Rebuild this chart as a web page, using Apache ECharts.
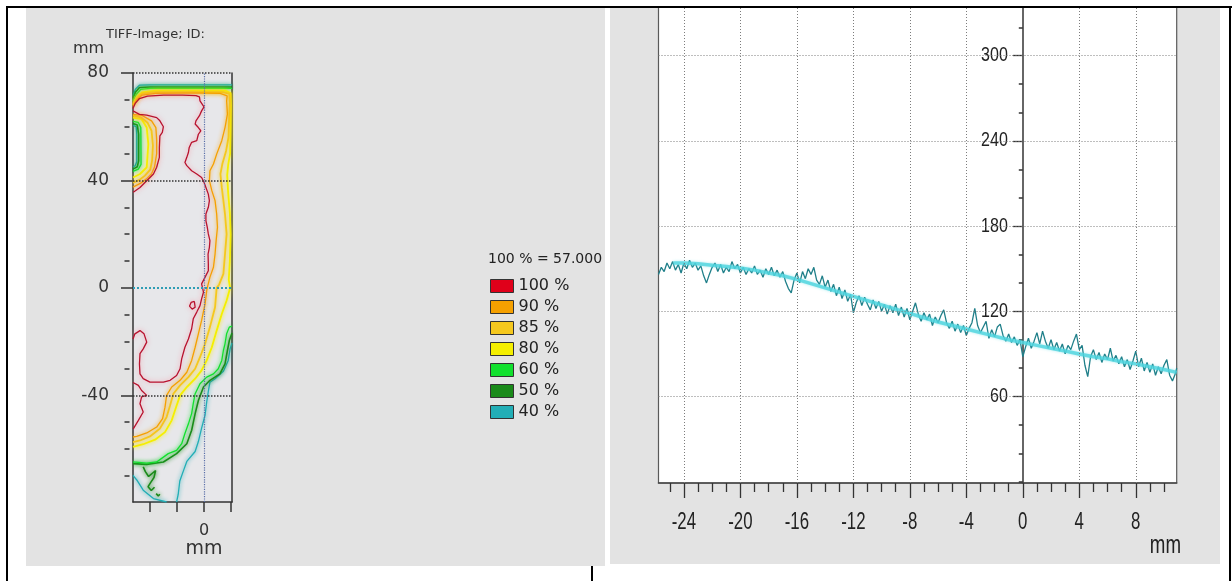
<!DOCTYPE html>
<html>
<head>
<meta charset="utf-8">
<script src="https://cdn.jsdelivr.net/npm/echarts@6/dist/echarts.min.js"></script>
<style>
  html, body { margin: 0; padding: 0; background: #ffffff; }
  #chart { width: 1232px; height: 581px; }
</style>
</head>
<body>
<div id="chart"></div>
<script>
// ---------- Isodose map (left panel) ----------
const doseLevels = ['100 %', '90 %', '85 %', '80 %', '60 %', '50 %', '40 %'];
const doseColors = ['#e0001a', '#f5a000', '#f5c81e', '#f5ef00', '#12e02e', '#1a8a1a', '#22aeb6'];
const doseReference = '100 % = 57.000';
const mapTitle = 'TIFF-Image; ID:';
const mapUnit = 'mm';

const mapYLabels = [-40, 0, 40, 80];
const mapYMinor = [-70, -60, -50, -30, -20, -10, 10, 20, 30, 50, 60, 70];
const mapXTicks = [-20, -10, 0, 10];
const mapXLabels = [0];

// contour polylines per dose level, [x mm, y mm]
const iso100 = [
  [[-26.4,66.8],[-25.5,68.8],[-24,70.5],[-21,71.4],[-15,71.8],[-8,71.8],[-3,71.6],[-1.7,71.1],[-1.5,69.6],[0,67.4],[-0.9,65.9],[-1.7,64.1],[-3.0,62.2],[-3.3,61.0],[-2.1,59.7],[-1.2,58.5],[-2.1,57.2],[-2.7,54.8],[-4.6,54.2],[-5.5,52.3],[-5.8,50.4],[-6.4,48.6],[-7.1,46.7],[-6.4,45.5],[-4.6,43.6],[-2.7,42.4],[-0.9,41.1],[0,39.3],[0.7,37.4],[1.6,34.9],[2.0,32.5],[1.6,30.0],[0.7,27.5],[0.7,25.0],[1.2,22.6],[1.6,20.1],[2.2,17.6],[2.0,15.1],[1.5,12.6],[1.6,8.9],[1.6,6.4],[0.4,4.0],[-0.9,1.5],[-0.2,-1.6],[-0.9,-4.1],[-1.5,-6.6],[-2.7,-9.0],[-4.0,-11.5],[-4.6,-15.2],[-5.8,-19.0],[-7.1,-22.1],[-8.3,-26.4],[-8.9,-30.1],[-10.2,-32.6],[-12.6,-34.4],[-15.1,-35.1],[-20.1,-35.1],[-22.6,-33.8],[-23.8,-32.0],[-24.0,-28.3],[-23.8,-24.5],[-22.6,-22.7],[-21.3,-20.2],[-22.3,-17.1],[-23.8,-15.9],[-25.7,-17.1],[-26.4,-19.0]],
  [[-26.4,65.9],[-24,64.6],[-21.3,64.3],[-17.6,63.4],[-16.4,62.2],[-15.1,60.0],[-15.5,57.9],[-16.4,56.6],[-16.6,52.3],[-16.6,48.6],[-17.6,44.9],[-18.8,42.4],[-21.3,39.9],[-23.8,37.4],[-26.3,35.6]],
  [[-26.4,-35.2],[-24.4,-36.3],[-23.2,-38.2],[-21.3,-40.0],[-23.2,-40.6],[-23.8,-43.1],[-22.6,-46.2],[-24.4,-49.3],[-26.3,-52.5]],
  [[-3.6,-5.0],[-4.8,-5.4],[-5.4,-6.8],[-4.4,-7.9],[-3.3,-7.2],[-3.6,-5.0]]
];
const iso90 = [
  [[-26.4,67.6],[-25,70],[-23,71.8],[-18,72.4],[-8,72.5],[0,72.5],[6,72.4],[8.6,71.5],[8.4,69.6],[8.7,64.7],[7.8,59.7],[6.6,54.8],[4.7,49.8],[3.5,46.1],[2.2,43.6],[2.0,39.9],[2.9,36.2],[4.1,32.5],[4.7,27.5],[5.0,22.6],[4.5,17.6],[4.1,12.6],[3.5,7.7],[2.2,4.0],[1.2,0],[1.0,-1.0],[0.4,-5.9],[-0.9,-12.1],[-2.1,-17.1],[-3.3,-22.1],[-4.6,-27.0],[-6.4,-31.4],[-8.9,-34.4],[-12.0,-36.9],[-13.9,-40.0],[-14.5,-44.4],[-15.4,-48.7],[-17.6,-51.8],[-21.3,-54.0],[-25.0,-55.3],[-26.4,-55.5]],
  [[-26.4,64.6],[-23,64.2],[-19.5,62.2],[-17.9,59.7],[-17.6,55],[-17.6,50],[-18.4,45],[-19.5,42.5],[-21.5,40.5],[-23.5,39],[-26.4,37.5]]
];
const iso85 = [
  [[-26.4,68],[-25,70.5],[-23,72.3],[-18,72.9],[0,72.9],[7,72.9],[9.4,72.3],[9.6,69.0],[9.4,64.7],[9.1,56],[8.2,51],[6.8,46.1],[6.1,42.4],[6.6,37.4],[7.2,32.5],[7.8,27.5],[8.4,20],[7.8,12.6],[7.2,5.2],[5.6,1.2],[4.7,0],[4.1,-7.2],[2.2,-14.6],[0.4,-20.8],[-1.5,-25.8],[-3.3,-30.1],[-5.8,-33.2],[-8.9,-36.3],[-11.4,-39.4],[-12.6,-43.7],[-13.9,-48.1],[-16.4,-52.4],[-20.1,-55.3],[-23.8,-56.8],[-26.4,-57.4]],
  [[-26.4,64.1],[-23.5,63.5],[-21,61.5],[-19.5,58.5],[-19,53],[-19.3,47.5],[-20,44],[-22,41.8],[-24,40.2],[-26.4,39.2]]
];
const iso80 = [
  [[-26.4,68.5],[-25,71],[-23,72.8],[-18,73.4],[0,73.4],[8,73.4],[9.9,72.5],[10.0,68],[9.9,60],[9.7,50],[9.0,46],[8.6,42],[9.0,35],[9.6,28],[9.9,20],[9.6,10],[9.2,3],[9.7,0],[8.4,-4.7],[6.6,-9.7],[4.7,-15.9],[2.9,-22.1],[1.0,-27.0],[-0.9,-30.7],[-3.3,-33.8],[-6.4,-36.9],[-8.9,-40.0],[-10.4,-44.4],[-12.0,-49.3],[-14.5,-53.7],[-18.2,-56.5],[-22.6,-58.2],[-26.4,-59.2]],
  [[-26.4,63.4],[-23.2,62.8],[-21.3,59.7],[-20.7,53.5],[-21.3,44.9],[-23.8,42.4],[-26.4,41.1]]
];
const iso60 = [
  [[-26.4,69.5],[-25.2,72],[-23.5,73.9],[-20,74.3],[10.4,74.3]],
  [[10.4,-14.2],[9.4,-14.6],[8.4,-17.1],[7.8,-20.8],[7.2,-23.3],[6.6,-27.0],[5.3,-30.1],[3.5,-32.0],[1.0,-33.2],[-1.5,-35.7],[-3.3,-39.4],[-4.0,-43.1],[-4.6,-46.8],[-5.8,-50.6],[-7.1,-54.2],[-8.3,-58.0],[-10.2,-60.5],[-13.3,-61.7],[-15.1,-63.0],[-17.6,-64.8],[-21.3,-65.2],[-26.4,-64.8]],
  [[-26.4,62],[-24.4,61.6],[-23.5,59.7],[-23.4,46],[-24.4,44.2],[-26.4,43.4]]
];
const iso50 = [
  [[-26.4,70.5],[-25.5,72.8],[-24,74.6],[-20,74.8],[10.4,74.8]],
  [[10.4,-16.8],[9.4,-19.6],[8.7,-23.3],[7.8,-28.3],[5.9,-32.0],[2.2,-34.4],[-0.2,-36.9],[-2.1,-41.9],[-3.3,-46.8],[-4.6,-53.0],[-6.4,-58.0],[-10.2,-61.7],[-15.1,-64.8],[-21.3,-65.7],[-26.4,-65.4]],
  [[-26.4,61.2],[-24.8,60.6],[-24.3,57.2],[-24.3,47.3],[-24.8,45.1],[-26.4,44.2]],
  [[-22.6,-66.6],[-21.8,-68.4],[-20.6,-70.2],[-19.2,-69.0],[-18.0,-68.0],[-18.6,-70.6],[-19.8,-72.4],[-20.8,-74.0],[-19.6,-75.4],[-18.4,-74.2]],
  [[-17.8,-76.6],[-17.0,-77.4],[-16.4,-76.8]]
];
const iso40 = [
  [[-26.4,71.5],[-25.5,74],[-24,75.5],[-20,75.6],[10.4,75.6]],
  [[10.4,-20.5],[9.7,-22.7],[9.0,-27.0],[7.2,-31.0],[4.1,-33.8],[2.2,-35.1],[1.6,-38.5],[1.0,-42.4],[0.4,-47.3],[-0.9,-52.2],[-2.1,-57.2],[-3.3,-60.9],[-6.4,-64.6],[-7.7,-68.2],[-9.0,-71.9],[-9.6,-76.9],[-10.2,-79.7]],
  [[-26.4,-69.8],[-25.0,-71.5],[-22.6,-75.3],[-18.8,-78.4],[-13.9,-79.7]],
  [[-26.4,60.5],[-25.2,60],[-25,57],[-25,47],[-25.6,45.5],[-26.4,45]]
];
const isoLines = [iso100, iso90, iso85, iso80, iso60, iso50, iso40];

// ---------- Dose profile (right panel) ----------
const profileXLabels = [-24, -20, -16, -12, -8, -4, 0, 4, 8];
const profileXMinor = [-25, -23, -22, -21, -19, -18, -17, -15, -14, -13, -11, -10, -9, -7, -6, -5, -3, -2, -1, 1, 2, 3, 5, 6, 7, 9, 10];
const profileYLabels = [60, 120, 180, 240, 300];
const profileYMinor = [0, 20, 40, 80, 100, 140, 160, 200, 220, 260, 280, 320];
const profileXRange = [-25.8, 10.9];
const profileYRange = [-0.9, 334.3];
const profileUnit = 'mm';

// measured profile along y = 0, [x mm, value]
const profileMeasured = [
  [-25.8,146],[-25.6,151],[-25.4,148],[-25.2,154],[-25.0,150],[-24.8,155],[-24.6,149],[-24.4,153],
  [-24.2,147],[-24.0,154],[-23.8,150],[-23.6,156],[-23.4,151],[-23.2,154],[-23.0,149],[-22.8,152],
  [-22.6,145],[-22.4,140],[-22.2,146],[-22.0,151],[-21.8,154],[-21.6,148],[-21.4,153],[-21.2,147],
  [-21.0,151],[-20.8,148],[-20.6,155],[-20.4,150],[-20.2,153],[-20.0,147],[-19.8,151],[-19.6,146],
  [-19.4,150],[-19.2,147],[-19.0,152],[-18.8,146],[-18.6,149],[-18.4,144],[-18.2,150],[-18.0,146],
  [-17.8,151],[-17.6,145],[-17.4,149],[-17.2,144],[-17.0,148],[-16.8,141],[-16.6,136],[-16.4,133],
  [-16.2,142],[-16.0,147],[-15.8,140],[-15.6,148],[-15.4,143],[-15.2,150],[-15.0,146],[-14.8,151],
  [-14.6,142],[-14.4,139],[-14.2,145],[-14.0,137],[-13.8,142],[-13.6,134],[-13.4,139],[-13.2,131],
  [-13.0,137],[-12.8,129],[-12.6,135],[-12.4,127],[-12.2,132],[-12.0,119],[-11.8,126],[-11.6,131],
  [-11.4,124],[-11.2,130],[-11.0,125],[-10.8,121],[-10.6,128],[-10.4,122],[-10.2,127],[-10.0,120],
  [-9.8,125],[-9.6,118],[-9.4,124],[-9.2,119],[-9.0,125],[-8.8,117],[-8.6,123],[-8.4,116],
  [-8.2,122],[-8.0,114],[-7.8,120],[-7.6,126],[-7.4,118],[-7.2,113],[-7.0,119],[-6.8,114],
  [-6.6,118],[-6.4,110],[-6.2,116],[-6.0,112],[-5.8,117],[-5.6,121],[-5.4,112],[-5.2,108],
  [-5.0,113],[-4.8,106],[-4.6,111],[-4.4,105],[-4.2,110],[-4.0,103],[-3.8,108],[-3.6,112],
  [-3.4,122],[-3.2,110],[-3.0,105],[-2.8,109],[-2.6,113],[-2.4,101],[-2.2,107],[-2.0,102],
  [-1.8,109],[-1.6,111],[-1.4,103],[-1.2,99],[-1.0,104],[-0.8,98],[-0.6,102],[-0.4,96],
  [-0.2,100],[0.0,88],[0.2,95],[0.4,101],[0.6,94],[0.8,99],[1.0,105],[1.2,97],
  [1.4,106],[1.6,99],[1.8,94],[2.0,100],[2.2,93],[2.4,98],[2.6,92],[2.8,97],
  [3.0,90],[3.2,96],[3.4,93],[3.6,99],[3.8,104],[4.0,93],[4.2,96],[4.4,82],
  [4.6,74],[4.8,88],[5.0,93],[5.2,86],[5.4,91],[5.6,84],[5.8,90],[6.0,86],
  [6.2,94],[6.4,85],[6.6,89],[6.8,83],[7.0,88],[7.2,81],[7.4,86],[7.6,79],
  [7.8,85],[8.0,92],[8.2,81],[8.4,87],[8.6,78],[8.8,84],[9.0,77],[9.2,83],
  [9.4,75],[9.6,81],[9.8,76],[10.0,82],[10.2,86],[10.4,75],[10.6,71],[10.8,76],[10.9,80]
];
// smoothed profile
const profileSmoothed = [
  [-24.75,154],[-24,154],[-23,153.5],[-22,152.5],[-21,151.5],[-20,150.5],[-19,149],[-18,147],
  [-17,145],[-16,142.5],[-15,139.5],[-14,136.5],[-13,133.5],[-12,130.5],[-11,127.5],[-10,124.5],
  [-9,121.5],[-8,118.5],[-7,115.5],[-6,112.5],[-5,110],[-4,107.5],[-3,105],[-2,102.5],
  [-1,100],[0,98],[1,96],[2,94],[3,92],[4,90],[5,88],[6,86.5],[7,84.5],[8,83],[9,81],[10,79],[10.9,77]
];

// ---------- styling ----------
const panelGray = '#e3e3e3';
const sans = "'DejaVu Sans', Verdana, sans-serif";
const tall = "'Liberation Sans', Arial, sans-serif";

const isoSeries = [];
// lower levels first so the 100 % line sits on top
for (let k = isoLines.length - 1; k >= 0; k--) {
  const col = doseColors[k];
  const red = k === 0;
  isoLines[k].forEach(function (poly) {
    isoSeries.push({
      type: 'line', name: doseLevels[k], xAxisIndex: 0, yAxisIndex: 0,
      data: poly, symbol: 'none', silent: true, z: 3 + (6 - k) * 0.1,
      itemStyle: { color: col },
      lineStyle: {
        color: red ? '#b8122e' : col,
        width: (k === 2 || k === 3) ? 1.8 : (k === 5 ? 1.6 : 1.3),
        shadowColor: red ? 'rgba(255,120,140,0.75)' : col,
        shadowBlur: red ? 5 : 4
      }
    });
  });
}

const mapRefLines = {
  type: 'line', xAxisIndex: 0, yAxisIndex: 0, data: [], silent: true, z: 2,
  markLine: {
    silent: true, symbol: 'none', label: { show: false }, animation: false,
    data: [
      { yAxis: 80, lineStyle: { color: '#333', type: 'dotted', width: 1.5 } },
      { yAxis: 40, lineStyle: { color: '#333', type: 'dotted', width: 1.5 } },
      { yAxis: -40, lineStyle: { color: '#333', type: 'dotted', width: 1.5 } },
      { yAxis: 0, lineStyle: { color: '#2f9db5', type: 'dotted', width: 2 } },
      { xAxis: 0, lineStyle: { color: '#5a6fa8', type: 'dotted', width: 1.2 } }
    ]
  }
};

const profileGrid = {
  type: 'line', xAxisIndex: 1, yAxisIndex: 3, data: [], silent: true, z: 1,
  markLine: {
    silent: true, symbol: 'none', label: { show: false }, animation: false,
    lineStyle: { color: '#7c7c7c', type: [1, 2], width: 1 },
    data: profileXLabels.filter(v => v !== 0).map(v => ({ xAxis: v }))
      .concat(profileYLabels.map(v => ({ yAxis: v })))
  }
};

const baseGraphic = [
  // panel backgrounds
  { type: 'rect', z: -10, shape: { x: 26, y: 8, width: 579, height: 558 }, style: { fill: panelGray } },
  { type: 'rect', z: -10, shape: { x: 610, y: 8, width: 610, height: 556 }, style: { fill: panelGray } },
  // map annotations
  { type: 'text', z: 5, x: 106, y: 35, style: { text: mapTitle, fontFamily: sans, fontSize: 13, fill: '#333', verticalAlign: 'middle' } },
  { type: 'text', z: 5, x: 73, y: 49, style: { text: mapUnit, fontFamily: sans, fontSize: 16, fill: '#333', verticalAlign: 'middle' } },
  { type: 'text', z: 5, x: 488, y: 259, style: { text: doseReference, fontFamily: sans, fontSize: 14, fill: '#222', verticalAlign: 'middle' } },
  // profile unit
  { type: 'text', z: 5, x: 1181, y: 546, scaleX: 0.72, style: { text: profileUnit, fontFamily: tall, fontSize: 26, fill: '#222', align: 'right', verticalAlign: 'middle' } },
  // gap between the two panels
  { type: 'rect', z: 100, shape: { x: 605, y: 8, width: 5, height: 560 }, style: { fill: '#ffffff' } },
  { type: 'rect', z: 100, shape: { x: 610, y: 8, width: 4, height: 556 }, style: { fill: panelGray } },
  // frame lines
  { type: 'rect', z: 100, shape: { x: 6, y: 6, width: 1226, height: 2 }, style: { fill: '#000' } },
  { type: 'rect', z: 100, shape: { x: 6, y: 6, width: 2, height: 575 }, style: { fill: '#000' } },
  { type: 'rect', z: 100, shape: { x: 1229, y: 6, width: 2, height: 575 }, style: { fill: '#000' } },
  { type: 'rect', z: 100, shape: { x: 591, y: 566, width: 2, height: 15 }, style: { fill: '#000' } }
];

const option = {
  animation: false,
  backgroundColor: 'transparent',
  grid: [
    { left: 133, right: 1000, top: 73, bottom: 79, show: true, backgroundColor: '#e7e7ea', borderWidth: 0 },
    { left: 658.5, right: 55.3, top: 7, bottom: 98, show: true, backgroundColor: '#ffffff', borderColor: '#5a5a5a', borderWidth: 1.2 }
  ],
  xAxis: [
    {
      gridIndex: 0, type: 'value', min: -26.4, max: 10.4, position: 'bottom',
      axisLine: { onZero: false, lineStyle: { color: '#333', width: 1.5 } },
      axisTick: { customValues: mapXTicks, length: 10, lineStyle: { color: '#333', width: 1.5 } },
      axisLabel: {
        customValues: mapXLabels, margin: 19,
        formatter: v => '{n|' + v + '}\n{u|' + mapUnit + '}',
        rich: {
          n: { fontFamily: sans, fontSize: 16, color: '#333', lineHeight: 19 },
          u: { fontFamily: sans, fontSize: 19, color: '#333', lineHeight: 19 }
        }
      },
      splitLine: { show: false }
    },
    {
      gridIndex: 1, type: 'value', min: profileXRange[0], max: profileXRange[1], position: 'bottom',
      axisLine: { onZero: false, lineStyle: { color: '#444', width: 1.5 } },
      axisTick: { customValues: profileXLabels, length: 15, lineStyle: { color: '#333', width: 1.3 } },
      axisLabel: { show: false },
      splitLine: { show: false }
    },
    {
      gridIndex: 1, type: 'value', min: profileXRange[0], max: profileXRange[1], position: 'bottom',
      axisLine: { show: false, onZero: false },
      axisTick: { customValues: profileXMinor, length: 9, lineStyle: { color: '#333', width: 1.3 } },
      axisLabel: { show: false },
      splitLine: { show: false }
    }
  ],
  yAxis: [
    {
      gridIndex: 0, type: 'value', min: -79.7, max: 80, position: 'left',
      axisLine: { onZero: false, lineStyle: { color: '#333', width: 1.5 } },
      axisTick: { customValues: mapYLabels, length: 12, lineStyle: { color: '#333', width: 1.5 } },
      axisLabel: { customValues: mapYLabels, margin: 24, fontFamily: sans, fontSize: 17, color: '#333' },
      splitLine: { show: false }
    },
    {
      gridIndex: 0, type: 'value', min: -79.7, max: 80, position: 'left', offset: 3.5,
      axisLine: { show: false, onZero: false },
      axisTick: { customValues: mapYMinor, length: 5, lineStyle: { color: '#333', width: 1.5 } },
      axisLabel: { show: false },
      splitLine: { show: false }
    },
    {
      gridIndex: 0, type: 'value', min: -79.7, max: 80, position: 'right',
      axisLine: { onZero: false, lineStyle: { color: '#333', width: 1.5 } },
      axisTick: { show: false }, axisLabel: { show: false }, splitLine: { show: false }
    },
    {
      gridIndex: 1, type: 'value', min: profileYRange[0], max: profileYRange[1], position: 'left',
      axisLine: { onZero: true, lineStyle: { color: '#333', width: 1.5 } },
      axisTick: { customValues: profileYLabels, length: 10, lineStyle: { color: '#333', width: 1.3 } },
      axisLabel: { show: false },
      splitLine: { show: false }
    },
    {
      gridIndex: 1, type: 'value', min: profileYRange[0], max: profileYRange[1], position: 'left',
      axisLine: { show: false, onZero: true },
      axisTick: { customValues: profileYMinor, length: 4, lineStyle: { color: '#333', width: 1.5 } },
      axisLabel: { show: false },
      splitLine: { show: false }
    }
  ],
  legend: {
    data: doseLevels, orient: 'vertical', left: 490, top: 278, padding: 0,
    itemWidth: 23, itemHeight: 13, itemGap: 5, icon: 'rect', selectedMode: false,
    itemStyle: { borderColor: '#333', borderWidth: 1 },
    textStyle: { fontFamily: sans, fontSize: 16, color: '#222', lineHeight: 16 }
  },
  graphic: baseGraphic,
  series: [mapRefLines].concat(isoSeries).concat([
    profileGrid,
    {
      type: 'line', name: 'measured', xAxisIndex: 1, yAxisIndex: 3, data: profileMeasured,
      symbol: 'none', silent: true, z: 3,
      lineStyle: { color: '#1f7f89', width: 1.3 }
    },
    {
      type: 'line', name: 'smoothed', xAxisIndex: 1, yAxisIndex: 3, data: profileSmoothed,
      symbol: 'none', silent: true, z: 4,
      lineStyle: { color: '#4fd4de', width: 3.5, opacity: 0.8, shadowColor: 'rgba(80,215,225,0.6)', shadowBlur: 3 }
    }
  ])
};

const chart = echarts.init(document.getElementById('chart'), null, { renderer: 'canvas' });
chart.setOption(option);

// Profile tick labels use a tall, narrow face: placed through the axis scales
// and compressed horizontally.
const axisBottom = chart.convertToPixel({ yAxisIndex: 3 }, profileYRange[0]);
const axisZeroX = chart.convertToPixel({ xAxisIndex: 1 }, 0);
const profileLabelGraphic = [];
profileXLabels.forEach(function (v) {
  profileLabelGraphic.push({
    type: 'text', z: 5, x: chart.convertToPixel({ xAxisIndex: 1 }, v), y: axisBottom + 39, scaleX: 0.7,
    style: { text: String(v), fontFamily: tall, fontSize: 24, fill: '#222', align: 'center', verticalAlign: 'middle' }
  });
});
profileYLabels.forEach(function (v) {
  profileLabelGraphic.push({
    type: 'text', z: 5, x: axisZeroX - 15, y: chart.convertToPixel({ yAxisIndex: 3 }, v), scaleX: 0.8,
    style: { text: String(v), fontFamily: tall, fontSize: 20, fill: '#222', align: 'right', verticalAlign: 'middle' }
  });
});
chart.setOption({ graphic: baseGraphic.concat(profileLabelGraphic) });
</script>
</body>
</html>
